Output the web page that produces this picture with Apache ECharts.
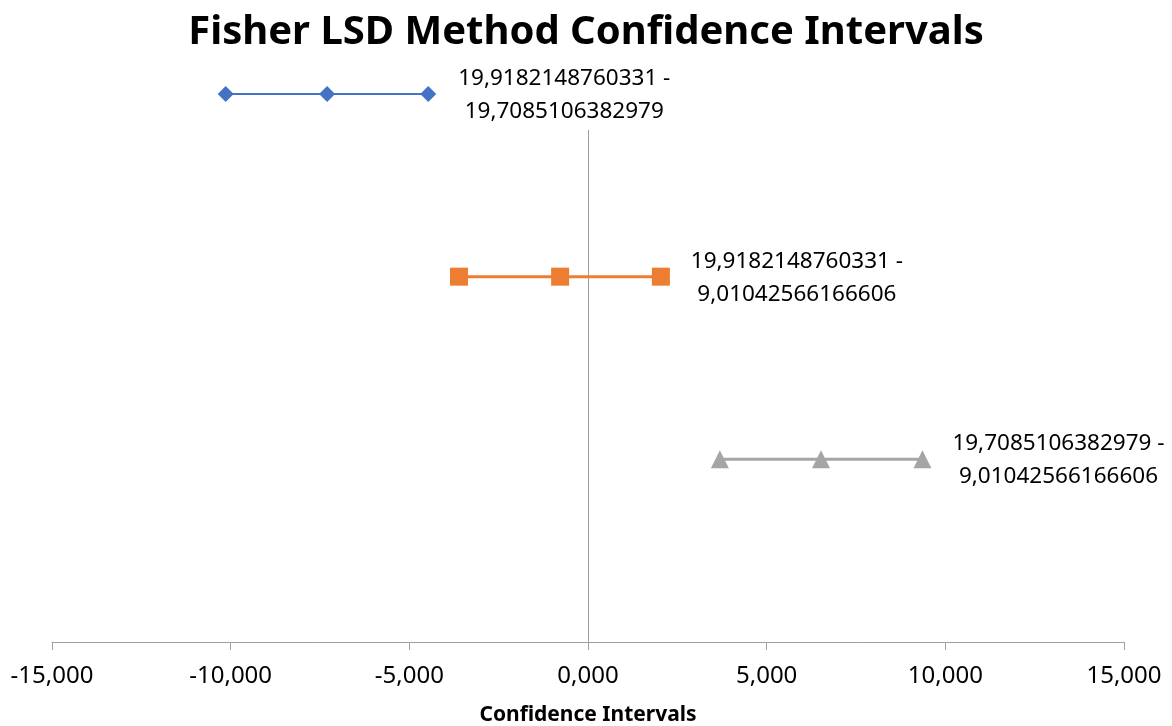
<!DOCTYPE html>
<html>
<head>
<meta charset="utf-8">
<script src="https://cdn.jsdelivr.net/npm/echarts@6/dist/echarts.min.js"></script>
<style>
  html, body { margin: 0; padding: 0; background: #fff; }
  #chart { width: 1172px; height: 726px; }
</style>
</head>
<body>
<div id="chart"></div>
<script>
// intervals: lower bound, difference, upper bound
var pairNames = [
    '19,9182148760331 -\n19,7085106382979',
    '19,9182148760331 -\n9,01042566166606',
    '19,7085106382979 -\n9,01042566166606'
];
var lowerValues = [-10.14, -3.61, 3.69];
var meanValues = [-7.30, -0.78, 6.52];
var upperValues = [-4.47, 2.04, 9.36];
var rowLevels = [3, 2, 1];
var xTicks = [-15, -10, -5, 0, 5, 10, 15];

var colors = ['#4472c4', '#ed7d31', '#a5a5a5'];
var symbols = ['diamond', 'rect', 'triangle'];
var symbolSizes = [16, 18, 18];
var lineWidths = [2, 3, 3];

var chart = echarts.init(document.getElementById('chart'));
window.addEventListener('resize', chart.resize);

var series = pairNames.map(function (name, i) {
    var y = rowLevels[i];
    return {
        name: name,
        type: 'line',
        symbol: symbols[i],
        symbolSize: symbolSizes[i],
        lineStyle: { color: colors[i], width: lineWidths[i] },
        itemStyle: { color: colors[i] },
        animation: false,
        data: [
            [lowerValues[i], y],
            [meanValues[i], y],
            {
                value: [upperValues[i], y],
                label: {
                    show: true,
                    position: 'inside',
                    offset: [136, 1],
                    align: 'center',
                    verticalAlign: 'middle',
                    formatter: name,
                    color: '#000',
                    fontFamily: 'Noto Sans',
                    fontSize: 22.5,
                    lineHeight: 33,
                    backgroundColor: '#fff',
                    padding: [2, 4]
                }
            }
        ]
    };
});

chart.setOption({
    backgroundColor: '#fff',
    title: {
        text: 'Fisher LSD Method Confidence Intervals',
        left: 'center',
        top: 8,
        textStyle: {
            color: '#000',
            fontFamily: 'Noto Sans',
            fontWeight: 'bold',
            fontSize: 40
        }
    },
    grid: {
        left: 52,
        right: 48,
        top: 94,
        bottom: 84,
        outerBoundsMode: 'none',
        containLabel: false
    },
    xAxis: {
        type: 'value',
        min: xTicks[0],
        max: xTicks[xTicks.length - 1],
        interval: 5,
        name: 'Confidence Intervals',
        nameLocation: 'middle',
        nameGap: 63,
        nameTextStyle: {
            color: '#000',
            fontFamily: 'Noto Sans',
            fontWeight: 'bold',
            fontSize: 21
        },
        axisLine: { onZero: false, lineStyle: { color: '#9f9f9f', width: 1 } },
        axisTick: { show: true, length: 8, lineStyle: { color: '#9f9f9f' } },
        splitLine: { show: false },
        axisLabel: {
            margin: 22,
            color: '#000',
            fontFamily: 'Noto Sans',
            fontSize: 24,
            formatter: function (v) {
                return v.toFixed(3).replace('.', ',');
            }
        }
    },
    yAxis: {
        type: 'value',
        min: 0,
        max: 3,
        axisLine: { show: true, onZero: true, lineStyle: { color: '#9f9f9f', width: 1 } },
        axisTick: { show: false },
        axisLabel: { show: false },
        splitLine: { show: false }
    },
    series: series
});
</script>
</body>
</html>
